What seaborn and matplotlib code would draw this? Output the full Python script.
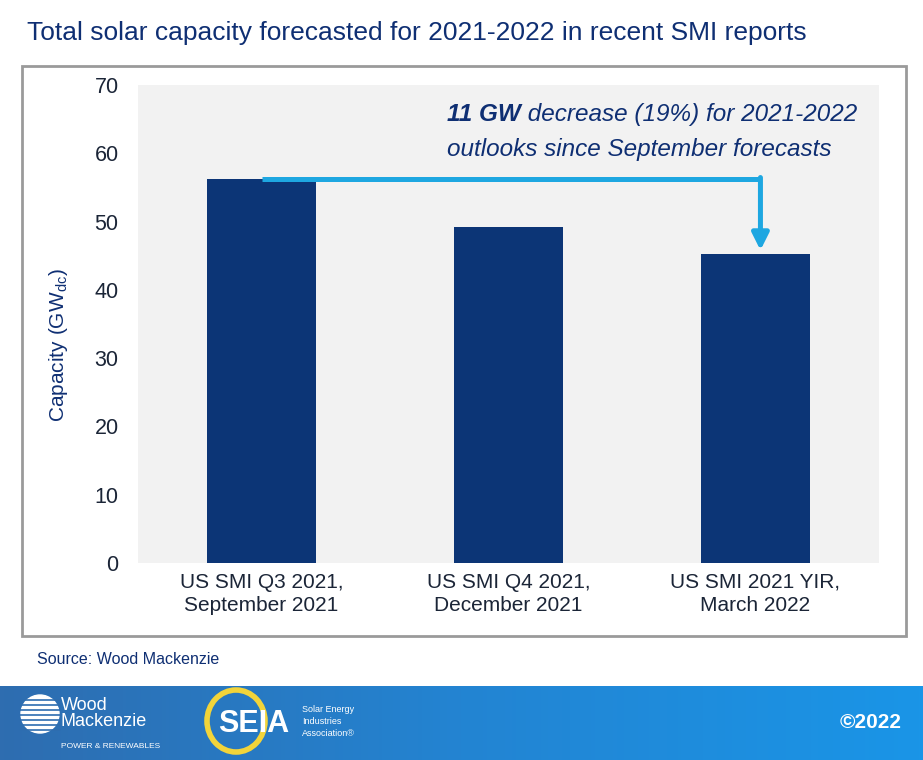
import numpy as np
import matplotlib
matplotlib.use("Agg")
import matplotlib.pyplot as plt
import seaborn as sns
import pandas as pd
from matplotlib.patches import Rectangle, Ellipse, Circle

# dados
relatorios = ["US SMI Q3 2021,\nSeptember 2021", "US SMI Q4 2021,\nDecember 2021", "US SMI 2021 YIR,\nMarch 2022"]
capacidade = [56.2, 49.2, 45.3]
y_ticks = [0, 10, 20, 30, 40, 50, 60, 70]

df = pd.DataFrame({"relatorio": relatorios, "capacidade": capacidade})

W, H = 923, 760
sns.set_style("white")
plt.rcParams["font.family"] = ["Liberation Sans", "DejaVu Sans"]

AZUL_ESCURO = "#0c3576"
AZUL_TEXTO = "#0f2f73"
AZUL_SETA = "#1ea7e1"
ESCURO = "#1b2537"


def fx(x):
    return x / W


def fy(y):
    return 1 - y / H


fig = plt.figure(figsize=(W / 100, H / 100), dpi=100)
fig.patch.set_facecolor("white")

# moldura cinza em volta do gráfico
fig.patches.append(Rectangle((fx(22), fy(636)), fx(906) - fx(22), fy(66) - fy(636),
                             transform=fig.transFigure, fill=False, edgecolor="#9a9a9a", lw=2))

ax = fig.add_axes([fx(138), fy(563), fx(879) - fx(138), fy(85) - fy(563)])
ax.set_facecolor("#f2f2f2")

sns.barplot(data=df, x="relatorio", y="capacidade", color=AZUL_ESCURO, saturation=1,
            width=0.44, ax=ax)
for p in ax.patches:
    p.set_edgecolor("none")

ax.set_ylim(0, 70)
ax.set_xlim(-0.5, 2.5)
ax.set_yticks(y_ticks)
ax.tick_params(axis="y", length=0, pad=14, labelsize=15.5, labelcolor=ESCURO)
ax.tick_params(axis="x", length=0, pad=7, labelsize=15, labelcolor=ESCURO)
for lbl in ax.get_xticklabels():
    lbl.set_linespacing(1.3)
for s in ax.spines.values():
    s.set_visible(False)
ax.set_xlabel("")
ax.set_ylabel(r"Capacity (GW$_{\mathregular{dc}}$)", fontsize=15, color=AZUL_TEXTO)
ax.yaxis.set_label_coords(fx(70 - 138) / (fx(879) - fx(138)), 0.456)

# seta de redução
x_fim = 2.02
ax.plot([0, x_fim], [capacidade[0], capacidade[0]], color=AZUL_SETA, lw=3.6,
        solid_capstyle="butt", zorder=5)
ax.annotate("", xy=(x_fim, capacidade[2] + 0.5), xytext=(x_fim, capacidade[0] + 0.25),
            arrowprops=dict(arrowstyle="-|>,head_length=1.0,head_width=0.5", color=AZUL_SETA,
                            lw=3.6, shrinkA=0, shrinkB=0), zorder=5)

t1 = ax.text(0.752, 65.7, "11 GW", fontsize=17.5, fontweight="bold", fontstyle="italic",
             color=AZUL_TEXTO, ha="left", va="center")
ax.annotate(" decrease (19%) for 2021-2022", xy=(1, 0), xycoords=t1, ha="left", va="bottom",
            fontsize=17.5, fontstyle="italic", color=AZUL_TEXTO)
ax.text(0.752, 60.5, "outlooks since September forecasts", fontsize=17.5, fontstyle="italic",
        color=AZUL_TEXTO, ha="left", va="center")

# título e fonte
fig.text(fx(27), fy(33), "Total solar capacity forecasted for 2021-2022 in recent SMI reports",
         fontsize=19, color=AZUL_TEXTO, ha="left", va="center")
fig.text(fx(37), fy(660), "Source: Wood Mackenzie", fontsize=11.5, color=AZUL_TEXTO,
         ha="left", va="center")

# rodapé com gradiente
fax = fig.add_axes([0, 0, 1, fy(686)])
grad = np.linspace(0, 1, 256).reshape(1, -1)
cmap = matplotlib.colors.LinearSegmentedColormap.from_list("rod", ["#2e6db0", "#2384d2", "#1a95e7"])
fax.imshow(grad, aspect="auto", cmap=cmap, extent=[0, W, 0, 74])
fax.set_xlim(0, W)
fax.set_ylim(0, 74)
fax.axis("off")

# logo Wood Mackenzie (aproximado)
fax.add_patch(Circle((40, 46), 19, color="white"))
for yy in range(30, 64, 5):
    fax.plot([20, 60], [yy, yy], color="#2e6db0", lw=1.2)
fax.text(61, 55, "Wood", color="white", fontsize=13, ha="left", va="center")
fax.text(61, 38, "Mackenzie", color="white", fontsize=13, ha="left", va="center")
fax.text(61, 14, "POWER & RENEWABLES", color="white", fontsize=6, ha="left", va="center")

# logo SEIA (aproximado)
fax.add_patch(Ellipse((236, 39), 58, 62, fill=False, edgecolor="#f2d43a", lw=4))
fax.text(218, 36, "SEIA", color="white", fontsize=22, fontweight="bold", ha="left", va="center")
fax.text(302, 51, "Solar Energy", color="white", fontsize=6.5, ha="left", va="center")
fax.text(302, 39, "Industries", color="white", fontsize=6.5, ha="left", va="center")
fax.text(302, 27, "Association®", color="white", fontsize=6.5, ha="left", va="center")

fax.text(902, 38, "©2022", color="white", fontsize=15, fontweight="bold", ha="right", va="center")

fig.savefig("out.png", dpi=100, facecolor=fig.get_facecolor())
